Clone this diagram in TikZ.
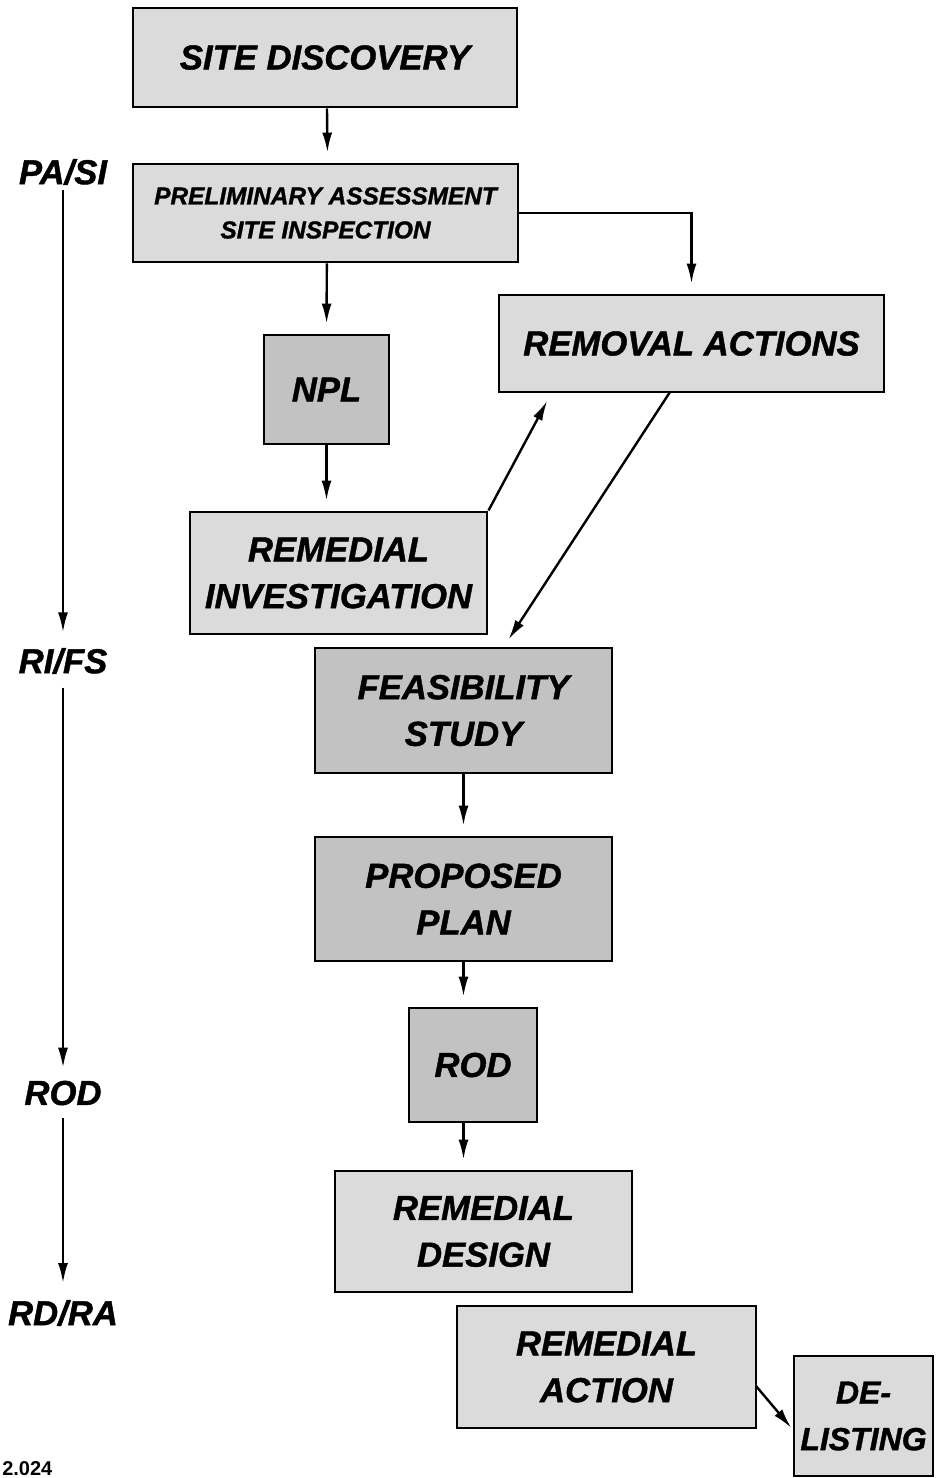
\documentclass[tikz,border=0pt]{standalone}
\usepackage{fontspec}
\setmainfont{Liberation Sans}[BoldItalicFeatures={FakeBold=1.2}]
\usetikzlibrary{arrows.meta}
\tikzset{
  px/.style={x=0.75pt,y=-0.75pt},
  boxbase/.style={draw=black,line width=2.2pt,inner sep=0pt,align=center,
    font=\bfseries\itshape\fontsize{26}{35}\selectfont},
  lightbox/.style={boxbase,fill=black!14},
  darkbox/.style={boxbase,fill=black!24},
  sz/.style 2 args={minimum width=#1*0.75pt,minimum height=#2*0.75pt},
  arr/.style={line width=1.8pt,-{Latex[length=15pt,width=7.5pt]},shorten >=7.5pt},
  side/.style={inner sep=0pt,font=\bfseries\itshape\fontsize{26}{30}\selectfont},
}
\begin{document}
\begin{tikzpicture}[px]
\useasboundingbox (0,0) rectangle (936,1478);
% boxes
\node[lightbox,sz={384}{99}] (SD) at (325,57.5) {SITE DISCOVERY};
\node[lightbox,sz={385}{98},font=\bfseries\itshape\fontsize{18.3}{25.5}\selectfont] (PA) at (325.5,213) {PRELIMINARY ASSESSMENT\\SITE INSPECTION};
\node[lightbox,sz={385}{97}] (RM) at (691.5,343.5) {REMOVAL ACTIONS};
\node[darkbox,sz={125}{109}] (NPL) at (326.5,389.5) {NPL};
\node[lightbox,sz={297}{122}] (RI) at (338.5,573) {REMEDIAL\\INVESTIGATION};
\node[darkbox,sz={297}{125}] (FS) at (463.5,710.5) {FEASIBILITY\\STUDY};
\node[darkbox,sz={297}{124}] (PP) at (463.5,899) {PROPOSED\\PLAN};
\node[darkbox,sz={128}{114}] (ROD) at (473,1065) {ROD};
\node[lightbox,sz={297}{121}] (RD) at (483.5,1231.5) {REMEDIAL\\DESIGN};
\node[lightbox,sz={299}{122}] (RA) at (606.5,1367) {REMEDIAL\\ACTION};
\node[lightbox,sz={139}{120},font=\bfseries\itshape\fontsize{24}{35}\selectfont] (DL) at (863.5,1416) {DE-\\LISTING};
% side labels
\node[side] (L1) at (63,172) {PA/SI};
\node[side] (L2) at (63,661) {RI/FS};
\node[side] (L3) at (63,1093) {ROD};
\node[side] (L4) at (63,1313) {RD/RA};
\node[inner sep=0pt,anchor=south west,font=\bfseries\fontsize{15}{15}\selectfont] (num) at (2,1476) {2.024};
% connector points
\coordinate (rmIn) at (552,392);
\coordinate (rmOut) at (670,392);
\coordinate (fsIn) at (503,648);
\coordinate (raOut) at (756,1386);
\coordinate (dlIn) at (794,1431);
% flow arrows
\draw[arr] ([xshift=1.5pt]SD.south) -- ([xshift=1.5pt]PA.north);
\draw[arr] ([xshift=1pt]PA.south) -- (NPL.north);
\draw[arr] (NPL.south) -- (NPL.south |- RI.north);
\draw[arr] (PA.east) -| (RM.north);
\draw[arr] (RI.north east) -- (rmIn);
\draw[arr] (rmOut) -- (fsIn);
\draw[arr] (FS.south) -- (PP.north);
\draw[arr] (PP.south) -- (PP.south |- ROD.north);
\draw[arr] (ROD.south -| PP.south) -- (PP.south |- RD.north);
\draw[arr,shorten >=3pt] (raOut) -- (dlIn);
% timeline
\draw[arr,shorten <=13.5pt,shorten >=21.5pt] (L1.center) -- (L2.center);
\draw[arr,shorten <=20pt,shorten >=19pt] (L2.center) -- (L3.center);
\draw[arr,shorten <=19pt,shorten >=22.5pt] (L3.center) -- (L4.center);
\end{tikzpicture}
\end{document}
